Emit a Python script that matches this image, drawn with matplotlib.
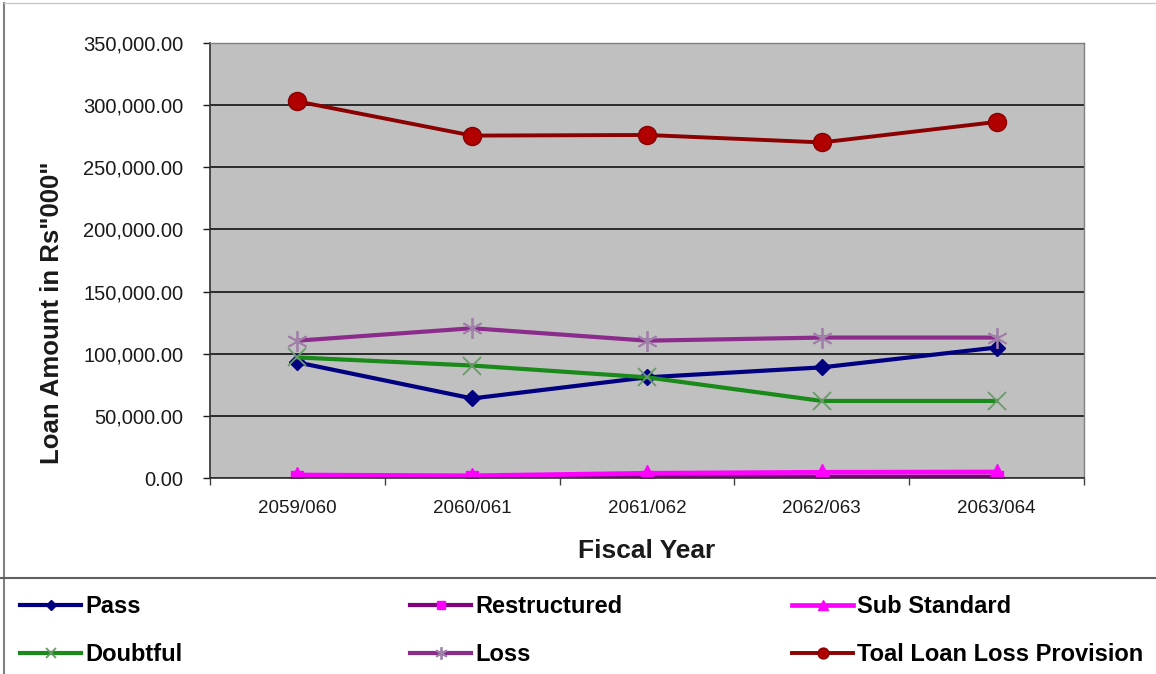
import matplotlib
matplotlib.use("Agg")
import matplotlib.pyplot as plt
from matplotlib.lines import Line2D
from matplotlib.ticker import FuncFormatter, FixedLocator

plt.rcParams['font.family'] = ['Liberation Sans', 'DejaVu Sans']

years = ["2059/060", "2060/061", "2061/062", "2062/063", "2063/064"]
pass_vals = [93000, 64000, 81000, 89000, 105000]
restructured = [500, 700, 1200, 900, 900]
sub_standard = [2400, 1800, 3800, 4600, 4800]
doubtful = [97000, 90500, 81000, 62000, 62000]
loss = [110500, 120500, 110500, 113000, 113000]
total = [303000, 275500, 276000, 270000, 286500]

W, H = 1156, 674
fig = plt.figure(figsize=(W / 100, H / 100), dpi=100)
ax = fig.add_axes([210 / W, 1 - 478 / H, (1084 - 210) / W, (478 - 43) / H])
ax.set_facecolor('#C0C0C0')

x = list(range(len(years)))
l_pass, = ax.plot(x, pass_vals, color='#000080', lw=3.0, marker='D', ms=8,
                  mfc='#000080', mec='#000080', label='Pass')
l_res, = ax.plot(x, restructured, color='#800080', lw=3.0, marker='s', ms=9,
                 mfc='#FF00FF', mec='#FF00FF', label='Restructured')
l_sub, = ax.plot(x, sub_standard, color='#FF00FF', lw=3.4, marker='^', ms=11,
                 mfc='#FF00FF', mec='#FF00FF', label='Sub Standard')
l_dbt, = ax.plot(x, doubtful, color='#1A8A1A', lw=3.0, marker='x', ms=13,
                 mec='#6A9A6A', mew=1.3, label='Doubtful')
l_loss, = ax.plot(x, loss, color='#8B2B8B', lw=3.0, marker=(6, 2, 0), ms=15,
                  mec='#A080A8', mew=1.3, label='Loss')
l_tot, = ax.plot(x, total, color='#8B0000', lw=2.8, marker='o', ms=13,
                 mfc='#B00000', mec='#8B0000', label='Toal Loan Loss Provision')

ax.set_xlim(-0.5, 4.5)
ax.set_ylim(0, 350000)
ax.yaxis.set_major_locator(FixedLocator([i * 50000 for i in range(8)]))
ax.yaxis.set_major_formatter(FuncFormatter(lambda v, p: f"{v:,.2f}"))
ax.grid(axis='y', color='#202020', lw=1.3)
ax.set_axisbelow(True)

ax.set_xticks(x)
ax.set_xticklabels(years)
ax.set_xticks([-0.5, 0.5, 1.5, 2.5, 3.5, 4.5], minor=True)
ax.tick_params(axis='x', which='major', length=0, pad=16, labelsize=13.5, colors='#1a1a1a')
ax.tick_params(axis='x', which='minor', length=5, width=1, color='#404040')
ax.tick_params(axis='y', length=5, width=1, pad=14, labelsize=14.5, colors='#1a1a1a')

for s in ['left', 'bottom']:
    ax.spines[s].set_color('#303030')
    ax.spines[s].set_linewidth(1.2)
for s in ['top', 'right']:
    ax.spines[s].set_color('#808080')
    ax.spines[s].set_linewidth(1.0)

ax.set_xlabel('Fiscal Year', fontsize=19, fontweight='bold', labelpad=16, color='#1a1a1a')
ax.set_ylabel('Loan Amount in Rs"000"', fontsize=18.5, fontweight='bold', color='#1a1a1a')
ax.yaxis.set_label_coords(-0.167, 0.379)

# chart frame lines
fig.add_artist(Line2D([4 / W, 4 / W], [0, 1 - 3 / H], transform=fig.transFigure, color='#808080', lw=1.5))
fig.add_artist(Line2D([4 / W, 1], [1 - 3 / H, 1 - 3 / H], transform=fig.transFigure, color='#C8C8C8', lw=1.0))
fig.add_artist(Line2D([0, 1], [1 - 578 / H, 1 - 578 / H], transform=fig.transFigure, color='#606060', lw=1.5))

# legend in three columns
cols = [(20, [l_pass, l_dbt]), (410, [l_res, l_loss]), (792, [l_sub, l_tot])]
for cx, hs in cols:
    fig.legend(handles=hs, labels=[h.get_label() for h in hs], loc='upper left',
               bbox_to_anchor=(cx / W, 1 - 595 / H), frameon=False,
               borderpad=0, borderaxespad=0, handlelength=2.6, handletextpad=0.15,
               labelspacing=1.05, markerscale=0.6,
               prop={'size': 17, 'weight': 'bold'})

fig.savefig('out.png', dpi=100)
